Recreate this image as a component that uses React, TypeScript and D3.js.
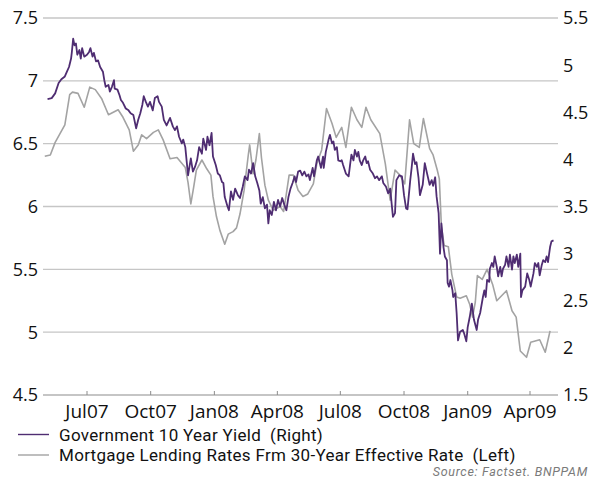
import React from "react";
import * as d3 from "d3";

// US Government 10-year yield (right axis, %)
const yieldDates = [
  "2007-05-05","2007-05-11","2007-05-16","2007-05-21","2007-05-25","2007-05-30","2007-06-02","2007-06-05","2007-06-08","2007-06-09",
  "2007-06-11","2007-06-13","2007-06-15","2007-06-17","2007-06-20","2007-06-22","2007-06-24","2007-06-27","2007-07-01","2007-07-04",
  "2007-07-06","2007-07-09","2007-07-11","2007-07-14","2007-07-17","2007-07-20","2007-07-24","2007-07-26","2007-07-28","2007-08-01",
  "2007-08-03","2007-08-06","2007-08-09","2007-08-10","2007-08-14","2007-08-17","2007-08-19","2007-08-22","2007-08-26","2007-08-30",
  "2007-09-02","2007-09-06","2007-09-10","2007-09-13","2007-09-16","2007-09-19","2007-09-21","2007-09-24","2007-09-27","2007-09-30",
  "2007-10-04","2007-10-07","2007-10-11","2007-10-13","2007-10-17","2007-10-20","2007-10-24","2007-10-29","2007-11-02","2007-11-05",
  "2007-11-08","2007-11-11","2007-11-15","2007-11-17","2007-11-20","2007-11-24","2007-11-28","2007-12-01","2007-12-04","2007-12-07",
  "2007-12-10","2007-12-14","2007-12-16","2007-12-20","2007-12-22","2007-12-25","2007-12-28","2007-12-30","2008-01-03","2008-01-06",
  "2008-01-09","2008-01-12","2008-01-14","2008-01-16","2008-01-20","2008-01-22","2008-01-25","2008-01-28","2008-01-31","2008-02-04",
  "2008-02-07","2008-02-11","2008-02-14","2008-02-18","2008-02-20","2008-02-23","2008-02-26","2008-02-29","2008-03-03","2008-03-06",
  "2008-03-08","2008-03-11","2008-03-14","2008-03-17","2008-03-19","2008-03-21","2008-03-24","2008-03-27","2008-03-30","2008-04-02",
  "2008-04-05","2008-04-08","2008-04-11","2008-04-14","2008-04-17","2008-04-20","2008-04-23","2008-04-26","2008-04-28","2008-05-01",
  "2008-05-04","2008-05-07","2008-05-10","2008-05-13","2008-05-16","2008-05-18","2008-05-22","2008-05-24","2008-05-28","2008-05-30",
  "2008-06-03","2008-06-06","2008-06-07","2008-06-10","2008-06-14","2008-06-16","2008-06-19","2008-06-21","2008-06-23","2008-06-26",
  "2008-06-28","2008-07-01","2008-07-03","2008-07-05","2008-07-09","2008-07-13","2008-07-15","2008-07-17","2008-07-20","2008-07-22",
  "2008-07-25","2008-07-27","2008-07-29","2008-08-01","2008-08-03","2008-08-06","2008-08-08","2008-08-10","2008-08-13","2008-08-17",
  "2008-08-20","2008-08-23","2008-08-26","2008-08-30","2008-09-01","2008-09-05","2008-09-08","2008-09-11","2008-09-15","2008-09-18",
  "2008-09-20","2008-09-24","2008-09-28","2008-10-01","2008-10-04","2008-10-06","2008-10-10","2008-10-12","2008-10-14","2008-10-17",
  "2008-10-19","2008-10-22","2008-10-24","2008-10-28","2008-10-31","2008-11-03","2008-11-07","2008-11-10","2008-11-12","2008-11-15",
  "2008-11-17","2008-11-20","2008-11-22","2008-11-24","2008-11-27","2008-11-29","2008-12-02","2008-12-03","2008-12-05","2008-12-07",
  "2008-12-10","2008-12-11","2008-12-14","2008-12-16","2008-12-18","2008-12-21","2008-12-25","2008-12-27","2008-12-30","2009-01-01",
  "2009-01-04","2009-01-07","2009-01-10","2009-01-14","2009-01-16","2009-01-19","2009-01-23","2009-01-25","2009-01-27","2009-01-29",
  "2009-02-01","2009-02-02","2009-02-05","2009-02-07","2009-02-09","2009-02-12","2009-02-14","2009-02-17","2009-02-19","2009-02-21",
  "2009-02-24","2009-02-26","2009-03-01","2009-03-03","2009-03-06","2009-03-08","2009-03-10","2009-03-13","2009-03-15","2009-03-18",
  "2009-03-19","2009-03-21","2009-03-25","2009-03-28","2009-03-31","2009-04-02","2009-04-06","2009-04-08","2009-04-11","2009-04-13",
  "2009-04-15","2009-04-18","2009-04-20","2009-04-23","2009-04-25","2009-04-27","2009-04-30","2009-05-02","2009-05-05",
];
const yieldValues = [
  4.64,4.65,4.70,4.81,4.85,4.88,4.93,4.98,5.07,5.13,
  5.28,5.21,5.23,5.11,5.16,5.07,5.18,5.09,5.11,5.14,
  5.18,5.09,5.13,5.04,5.05,4.98,4.93,4.84,4.77,4.79,
  4.72,4.77,4.84,4.75,4.74,4.68,4.63,4.60,4.54,4.52,
  4.49,4.47,4.33,4.42,4.49,4.58,4.67,4.61,4.56,4.61,
  4.52,4.65,4.67,4.61,4.56,4.42,4.36,4.44,4.35,4.31,
  4.35,4.24,4.17,4.21,4.13,3.83,4.01,3.87,3.92,3.99,
  4.13,4.06,4.22,4.10,4.24,4.15,4.28,4.03,3.94,3.85,
  3.83,3.76,3.75,3.60,3.50,3.46,3.66,3.57,3.69,3.62,
  3.59,3.71,3.82,3.78,3.89,3.85,3.96,3.82,3.75,3.67,
  3.53,3.60,3.48,3.52,3.32,3.46,3.41,3.55,3.46,3.57,
  3.50,3.59,3.52,3.46,3.60,3.69,3.75,3.82,3.76,3.87,
  3.88,3.83,3.87,3.82,3.84,3.78,3.91,3.82,3.99,4.03,
  3.91,4.03,3.91,4.08,4.21,4.26,4.17,4.19,4.10,4.13,
  3.99,3.98,3.99,3.94,3.85,3.82,3.94,4.05,3.99,4.10,
  4.03,4.08,3.99,3.94,3.99,4.03,3.96,3.98,3.89,3.85,
  3.80,3.82,3.78,3.82,3.75,3.71,3.64,3.69,3.39,3.43,
  3.78,3.83,3.82,3.62,3.48,3.47,3.78,3.91,4.06,3.95,
  3.97,3.80,3.62,3.73,3.96,3.86,3.73,3.78,3.72,3.81,
  3.61,3.43,3.00,3.32,3.07,2.97,2.93,2.69,2.65,2.72,
  2.61,2.54,2.58,2.37,2.08,2.17,2.19,2.15,2.07,2.22,
  2.33,2.47,2.30,2.19,2.30,2.37,2.54,2.61,2.54,2.72,
  2.70,2.84,2.90,2.86,2.97,2.86,2.76,2.86,2.76,2.84,
  2.88,2.97,2.86,2.99,2.83,2.97,2.90,2.99,2.86,3.00,
  2.54,2.61,2.65,2.79,2.72,2.65,2.79,2.90,2.86,2.90,
  2.77,2.88,2.93,2.91,2.97,2.91,3.07,3.13,3.14,
];

// 30-year mortgage lending rate, effective (left axis, %)
const mortgageDates = [
  "2007-05-01","2007-05-09","2007-05-16","2007-05-23","2007-05-30","2007-06-06","2007-06-10","2007-06-18","2007-06-27","2007-07-05",
  "2007-07-13","2007-07-22","2007-08-01","2007-08-15","2007-08-22","2007-08-31","2007-09-06","2007-09-13","2007-09-18","2007-09-25",
  "2007-10-05","2007-10-12","2007-10-19","2007-10-29","2007-11-08","2007-11-20","2007-11-24","2007-11-28","2007-12-02","2007-12-06",
  "2007-12-14","2007-12-21","2007-12-27","2007-12-30","2008-01-04","2008-01-09","2008-01-16","2008-01-21","2008-01-28","2008-02-02",
  "2008-02-07","2008-02-13","2008-02-19","2008-02-21","2008-02-26","2008-03-01","2008-03-06","2008-03-09","2008-03-14","2008-03-19",
  "2008-03-26","2008-04-05","2008-04-10","2008-04-14","2008-04-18","2008-04-24","2008-05-01","2008-05-08","2008-05-15","2008-05-23",
  "2008-05-28","2008-06-04","2008-06-11","2008-06-19","2008-06-25","2008-07-03","2008-07-09","2008-07-17","2008-07-25","2008-08-01",
  "2008-08-07","2008-08-14","2008-08-27","2008-09-04","2008-09-11","2008-09-18","2008-09-25","2008-10-02","2008-10-09","2008-10-15",
  "2008-10-23","2008-10-29","2008-11-07","2008-11-12","2008-11-18","2008-11-21","2008-11-24","2008-11-28","2008-12-04","2008-12-09",
  "2008-12-16","2008-12-21","2008-12-30","2009-01-04","2009-01-08","2009-01-12","2009-01-15","2009-01-22","2009-01-29","2009-02-06",
  "2009-02-12","2009-02-26","2009-03-06","2009-03-12","2009-03-18","2009-03-27","2009-04-02","2009-04-15","2009-04-23","2009-04-30",
];
const mortgageValues = [
  6.40,6.41,6.51,6.58,6.65,6.89,6.91,6.90,6.79,6.95,
  6.93,6.86,6.73,6.77,6.71,6.61,6.44,6.49,6.57,6.54,
  6.59,6.61,6.53,6.38,6.39,6.31,6.19,6.02,6.15,6.29,
  6.37,6.30,6.25,6.08,5.92,5.81,5.70,5.78,5.80,5.83,
  5.94,6.13,6.41,6.49,6.26,6.37,6.58,6.39,6.17,6.05,
  5.97,6.00,5.96,6.10,6.25,6.25,6.13,6.08,6.10,6.18,
  6.34,6.45,6.78,6.66,6.55,6.63,6.47,6.79,6.69,6.63,
  6.79,6.69,6.58,6.34,6.05,6.29,6.25,6.18,6.69,6.50,
  6.47,6.70,6.46,6.41,6.29,6.22,5.84,5.69,5.68,5.46,
  5.28,5.27,5.29,5.22,5.12,5.24,5.45,5.42,5.50,5.38,
  5.25,5.33,5.17,5.12,4.85,4.80,4.92,4.94,4.84,5.01,
];

const quarterTicks = ["2007-07-01","2007-10-01","2008-01-01","2008-04-01","2008-07-01","2008-10-01","2009-01-01","2009-04-01"];
const quarterLabels = ["Jul07","Oct07","Jan08","Apr08","Jul08","Oct08","Jan09","Apr09"];
const leftTicks = [4.5, 5, 5.5, 6, 6.5, 7, 7.5];
const rightTicks = [1.5, 2, 2.5, 3, 3.5, 4, 4.5, 5, 5.5];
const legendLabels = [
  "Government 10 Year Yield  (Right)",
  "Mortgage Lending Rates Frm 30-Year Effective Rate  (Left)",
];
const sourceNote = "Source: Factset. BNPPAM";

const W = 597;
const H = 479;
const plot = { left: 43, right: 558, top: 18, bottom: 395 };
const FONT = "'Open Sans', 'DejaVu Sans', sans-serif";
const LEGEND_FONT = "Roboto, 'Open Sans', sans-serif";
const PURPLE = "#4f2d72";
const GREY = "#a3a3a3";

const parse = (s: string) => new Date(s + "T00:00:00Z");

export default function App() {
  const x = d3
    .scaleUtc()
    .domain([parse("2007-07-01"), parse("2009-04-01")])
    .range([87, 530]);
  const yLeft = d3.scaleLinear().domain([4.5, 7.5]).range([plot.bottom, plot.top]);
  const yRight = d3.scaleLinear().domain([1.5, 5.5]).range([plot.bottom, plot.top]);

  const yieldSeries = yieldDates.map((d, i) => ({ date: parse(d), value: yieldValues[i] }));
  const mortgageSeries = mortgageDates.map((d, i) => ({ date: parse(d), value: mortgageValues[i] }));

  const yieldLine = d3
    .line<{ date: Date; value: number }>()
    .x((d) => x(d.date))
    .y((d) => yRight(d.value));
  const mortgageLine = d3
    .line<{ date: Date; value: number }>()
    .x((d) => x(d.date))
    .y((d) => yLeft(d.value));

  return (
    <svg
      width={W}
      height={H}
      style={{ position: "absolute", left: 0, top: 0, background: "#fff" }}
      fontFamily={FONT}
    >
      {/* horizontal gridlines */}
      {leftTicks
        .filter((t) => t !== 4.5)
        .map((t) => (
          <line
            key={"g" + t}
            x1={plot.left}
            x2={plot.right}
            y1={yLeft(t)}
            y2={yLeft(t)}
            stroke="#c6c6c6"
            strokeWidth={1.3}
          />
        ))}
      {/* bottom axis */}
      <line x1={plot.left} x2={plot.right} y1={plot.bottom} y2={plot.bottom} stroke="#8c8c8c" strokeWidth={1.2} />
      {quarterTicks.map((t, i) => (
        <g key={t}>
          <line x1={x(parse(t))} x2={x(parse(t))} y1={plot.bottom} y2={plot.bottom - 4} stroke="#8c8c8c" strokeWidth={1} />
          <text x={x(parse(t))} y={plot.bottom + 23} textAnchor="middle" fontSize={19} fill="#111">
            {quarterLabels[i]}
          </text>
        </g>
      ))}
      {/* left axis labels */}
      {leftTicks.map((t) => (
        <text key={"l" + t} x={38} y={yLeft(t)} dy="0.36em" textAnchor="end" fontSize={18} fill="#111">
          {d3.format("")(t)}
        </text>
      ))}
      {/* right axis labels */}
      {rightTicks.map((t) => (
        <text key={"r" + t} x={563} y={yRight(t)} dy="0.36em" textAnchor="start" fontSize={18} fill="#111">
          {d3.format("")(t)}
        </text>
      ))}

      <path d={mortgageLine(mortgageSeries) || ""} fill="none" stroke={GREY} strokeWidth={1.6} strokeLinejoin="round" />
      <path d={yieldLine(yieldSeries) || ""} fill="none" stroke={PURPLE} strokeWidth={1.8} strokeLinejoin="round" />

      {/* legend */}
      {legendLabels.map((label, i) => (
        <g key={label} transform={`translate(0, ${434.5 + i * 20.5})`}>
          <line x1={18} x2={49} y1={0} y2={0} stroke={i === 0 ? PURPLE : GREY} strokeWidth={1.4} />
          <text
            x={59}
            y={0}
            dy="0.36em"
            fontFamily={LEGEND_FONT}
            fontSize={17}
            letterSpacing={0.3}
            fill="#111"
            style={{ whiteSpace: "pre" }}
          >
            {label}
          </text>
        </g>
      ))}
      <text
        x={588}
        y={475.8}
        textAnchor="end"
        fontFamily={LEGEND_FONT}
        fontSize={12.5}
        letterSpacing={0.7}
        fontStyle="italic"
        fill="#7a7a7a"
      >
        {sourceNote}
      </text>
    </svg>
  );
}
